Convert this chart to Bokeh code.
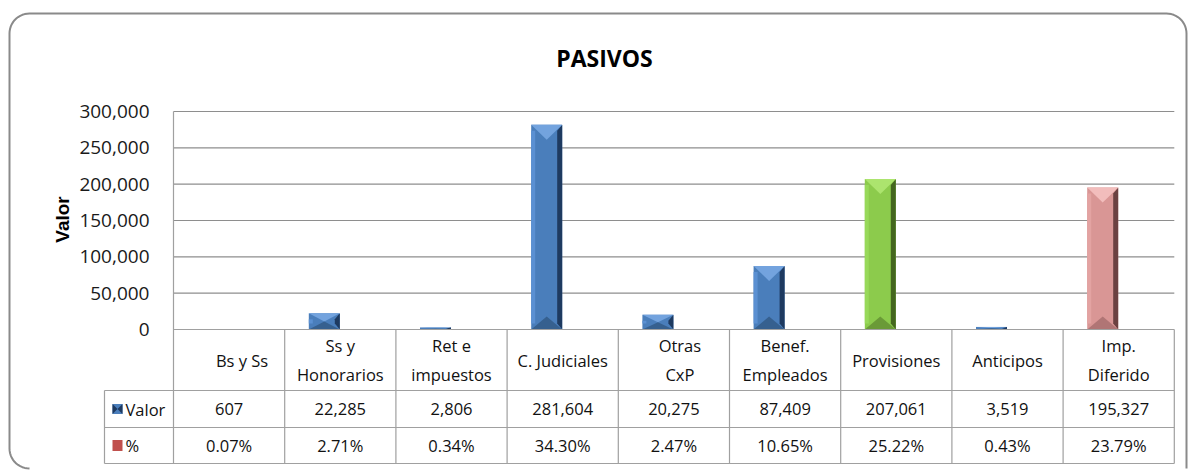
import numpy as np
from bokeh.plotting import figure
from bokeh.models import Range1d, LinearAxis, FixedTicker, NumeralTickFormatter
from bokeh.core.properties import value
from bokeh.embed import file_html
from bokeh.resources import INLINE

# ---------------- data ----------------
title = "PASIVOS"
y_label = "Valor"
categories = ["Bs y Ss", "Ss y\nHonorarios", "Ret e\nimpuestos", "C. Judiciales", "Otras\nCxP",
              "Benef.\nEmpleados", "Provisiones", "Anticipos", "Imp.\nDiferido"]
valor = [607, 22285, 2806, 281604, 20275, 87409, 207061, 3519, 195327]
pct = [0.07, 2.71, 0.34, 34.30, 2.47, 10.65, 25.22, 0.43, 23.79]
y_ticks = [0, 50000, 100000, 150000, 200000, 250000, 300000]
series = ["Valor", "%"]

# ---------------- styles ----------------
BLUE = dict(base="#4A7EBB", top="#73A3DE", left="#5B90D2", right="#1E3A60", bottom="#36608F")
GREEN = dict(base="#8CCB4C", top="#ACE46E", left="#98D95A", right="#44661F", bottom="#6A9A37")
PINK = dict(base="#D99695", top="#F2BDBC", left="#E3A3A2", right="#6B4141", bottom="#B07575")
bar_styles = [BLUE, BLUE, BLUE, BLUE, BLUE, BLUE, GREEN, BLUE, PINK]
RED = "#C0504D"
GRID = "#8E8E8E"
TABLE = "#A0A0A0"
FONT = "Open Sans"

# ---------------- layout (page pixels) ----------------
W, H = 1188, 471
OX, OY = 0, 0
X0 = 173.0        # left edge of plot area
COL = 111.2       # width of one category column
Y0 = 329.0        # pixel row of value 0
YTOP = 111.0      # pixel row of top tick
KY = y_ticks[-1] / (Y0 - YTOP)
T_HEAD, T_VAL, T_PCT = 390.0, 427.0, 463.0
T_LEFT = 104.0
BAR_W = 31.0
BAR_OFF = 16.0
HEAD_DX = [13, 0, 0, 0, 6, 0, 0, 0, 0]   # header text nudges (px)


def dx(px):
    return (px - X0) / COL


def dy(py):
    return (Y0 - py) * KY


n = len(categories)
p = figure(width=W, height=H, output_backend="svg", toolbar_location=None,
           x_range=Range1d(dx(OX), dx(OX + W)), y_range=Range1d(dy(OY + H), dy(OY)),
           x_axis_location=None, y_axis_location=None, min_border=0,
           background_fill_color="white", border_fill_color="white")
p.outline_line_color = None
p.grid.visible = False

# outer rounded frame
R = 20.0
L_, T_, Rt, B_ = 9.0, 13.0, 1186.0, 468.0
path_x, path_y = [], []
for a in np.linspace(np.pi / 2, np.pi, 14):
    path_x.append(L_ + R + R * np.cos(a)); path_y.append(B_ - R + R * np.sin(a))
for a in np.linspace(np.pi, 1.5 * np.pi, 14):
    path_x.append(L_ + R + R * np.cos(a)); path_y.append(T_ + R + R * np.sin(a))
for a in np.linspace(1.5 * np.pi, 2 * np.pi, 14):
    path_x.append(Rt - R + R * np.cos(a)); path_y.append(T_ + R + R * np.sin(a))
path_x.append(Rt); path_y.append(B_)
p.line([dx(v) for v in path_x], [dy(v) for v in path_y], line_color="#8A8A8A", line_width=2)

# gridlines (values > 0)
gy = y_ticks[1:]
p.segment(x0=[0] * len(gy), x1=[n] * len(gy), y0=gy, y1=gy, line_color=GRID, line_width=1.2)

# bars: Valor series with bevel, % series (tiny)
xc = np.arange(n) + 0.5
xv = xc - BAR_OFF / COL
xp = xc + BAR_OFF / COL
bw = BAR_W / COL
p.vbar(x=xv, top=valor, width=bw, bottom=0, fill_color=[s["base"] for s in bar_styles], line_color=None)
p.vbar(x=xp, top=[v / 100 for v in pct], width=bw, bottom=0, fill_color=RED, line_color=None)

bx, by, bc = [], [], []
for i, (v, st) in enumerate(zip(valor, bar_styles)):
    hpx = v / KY
    l, r = xv[i] - bw / 2, xv[i] + bw / 2
    c = xv[i]
    e = 5.0 / COL
    tdepth = min(15.0, hpx / 2) * KY
    bdepth = min(13.0, hpx / 2) * KY
    sdepth = min(6.0, hpx / 2) * KY
    bx.append([l, l + e * 0.8, l + e * 0.8, l]); by.append([sdepth, sdepth, v - sdepth, v - sdepth]); bc.append(st["left"])
    bx.append([r - e, r, r, r - e]); by.append([sdepth, 0, v, v - sdepth]); bc.append(st["right"])
    bx.append([l, r, c]); by.append([v, v, v - tdepth]); bc.append(st["top"])
    bx.append([l, r, c]); by.append([0, 0, bdepth]); bc.append(st["bottom"])
p.patches(bx, by, fill_color=bc, line_color=None)

# ---------------- data table ----------------
p.segment(x0=[0, dx(T_LEFT), dx(T_LEFT), dx(T_LEFT)], x1=[n] * 4,
          y0=[0, dy(T_HEAD), dy(T_VAL), dy(T_PCT)], y1=[0, dy(T_HEAD), dy(T_VAL), dy(T_PCT)],
          line_color=TABLE, line_width=1.2)
vx = list(range(n + 1))
p.segment(x0=vx, x1=vx, y0=[y_ticks[-1]] + [0] * n, y1=[dy(T_PCT)] * (n + 1), line_color=TABLE, line_width=1.2)
p.segment(x0=[dx(T_LEFT)], x1=[dx(T_LEFT)], y0=[dy(T_HEAD)], y1=[dy(T_PCT)], line_color=TABLE, line_width=1.2)

head_y = dy((Y0 + T_HEAD) / 2)
val_y = dy((T_HEAD + T_VAL) / 2)
pct_y = dy((T_VAL + T_PCT) / 2)
TFS = "16.5px"
p.text(x=[xc[i] + HEAD_DX[i] / COL for i in range(n)], y=[head_y] * n, text=categories,
       text_font=value(FONT), text_font_size=TFS,
       text_align="center", text_baseline="middle", text_color="#111111", text_line_height=1.25)
p.text(x=list(xc), y=[val_y] * n, text=[f"{v:,}" for v in valor], text_font=value(FONT),
       text_font_size=TFS, text_align="center", text_baseline="middle", text_color="#111111")
p.text(x=list(xc), y=[pct_y] * n, text=[f"{v:.2f}%" for v in pct], text_font=value(FONT),
       text_font_size=TFS, text_align="center", text_baseline="middle", text_color="#111111")

# legend keys in table
kx0, kx1 = dx(112), dx(122)
p.quad(left=[kx0, kx0], right=[kx1, kx1], bottom=[val_y - 5 * KY, pct_y - 5.5 * KY],
       top=[val_y + 5 * KY, pct_y + 5.5 * KY], fill_color=[BLUE["base"], RED], line_color=None)
p.patches([[kx0, kx0 + (kx1 - kx0) / 2, kx0], [kx1, kx0 + (kx1 - kx0) / 2, kx1]],
          [[val_y + 5 * KY, val_y, val_y - 5 * KY], [val_y + 5 * KY, val_y, val_y - 5 * KY]],
          fill_color=[BLUE["right"], BLUE["right"]], line_color=None)
p.text(x=[dx(125)] * 2, y=[val_y, pct_y], text=series, text_font=value(FONT), text_font_size=TFS,
       text_align="left", text_baseline="middle", text_color="#111111")

# title
p.text(x=[dx(604)], y=[dy(57)], text=[title], text_font=value(FONT), text_font_size="23px",
       text_font_style="bold", text_align="center", text_baseline="middle", text_color="#000000")

# y axis title
p.text(x=[dx(62)], y=[dy(219)], text=[y_label], angle=np.pi / 2, text_font=value("Liberation Sans"),
       text_font_size="19px", text_font_style="bold", text_align="center", text_baseline="middle",
       text_color="#000000")

# y axis
yaxis = LinearAxis(fixed_location=0, ticker=FixedTicker(ticks=y_ticks),
                   formatter=NumeralTickFormatter(format="0,0"))
yaxis.axis_line_color = None
yaxis.major_tick_line_color = None
yaxis.minor_tick_line_color = None
yaxis.major_tick_out = 0
yaxis.major_label_standoff = 24
yaxis.major_label_text_font = FONT
yaxis.major_label_text_font_size = "19px"
yaxis.major_label_text_color = "#1A1A1A"
p.add_layout(yaxis, "left")

open("out.html", "w").write(file_html(p, INLINE))
